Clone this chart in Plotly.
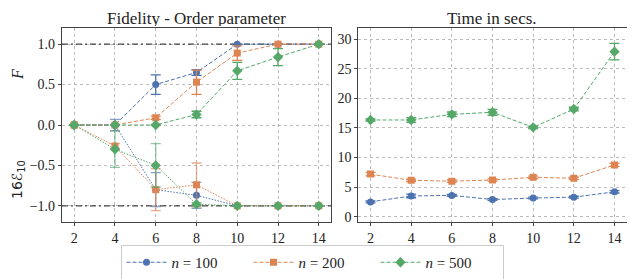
import plotly.graph_objects as go

x_vals = [2, 4, 6, 8, 10, 12, 14]
series_names = ["<i>n</i> = 100", "<i>n</i> = 200", "<i>n</i> = 500"]
colors = ["#4C72B0", "#DD8452", "#55A868"]
err_colors = ["rgba(76,114,176,0.65)", "rgba(221,132,82,0.65)", "rgba(85,168,104,0.65)"]
markers = ["circle", "square", "diamond"]

# Fidelity F
F_100 = [0, 0, 0.50, 0.65, 1.0, 1.0, 1.0]
F_100_err = [0, 0, 0.12, 0.035, 0, 0, 0]
F_200 = [0, 0, 0.09, 0.53, 0.89, 1.0, 1.0]
F_200_err = [0, 0, 0.02, 0.15, 0.09, 0, 0]
F_500 = [0, 0, 0, 0.13, 0.67, 0.84, 1.0]
F_500_err = [0, 0, 0, 0.04, 0.105, 0.105, 0]

# Order parameter 16 E10
E_100 = [0, 0, -0.80, -0.87, -1.0, -1.0, -1.0]
E_100_err = [0, 0.07, 0.21, 0.16, 0, 0, 0]
E_200 = [0, -0.26, -0.80, -0.74, -1.0, -1.0, -1.0]
E_200_err = [0, 0.03, 0.26, 0.27, 0, 0, 0]
E_500 = [0, -0.30, -0.50, -0.98, -1.0, -1.0, -1.0]
E_500_err = [0, 0.225, 0.27, 0.02, 0, 0, 0]

# Time in secs
T_100 = [2.5, 3.5, 3.6, 2.9, 3.15, 3.3, 4.2]
T_100_err = [0.15, 0.3, 0.15, 0.15, 0.15, 0.15, 0.2]
T_200 = [7.2, 6.15, 6.0, 6.2, 6.65, 6.5, 8.75]
T_200_err = [0.3, 0.2, 0.2, 0.2, 0.2, 0.2, 0.25]
T_500 = [16.35, 16.35, 17.3, 17.65, 15.1, 18.2, 27.9]
T_500_err = [0.2, 0.4, 0.4, 0.5, 0.2, 0.3, 1.4]

F_sets = [(F_100, F_100_err), (F_200, F_200_err), (F_500, F_500_err)]
E_sets = [(E_100, E_100_err), (E_200, E_200_err), (E_500, E_500_err)]
T_sets = [(T_100, T_100_err), (T_200, T_200_err), (T_500, T_500_err)]

FONT = "Liberation Serif"
DASH = "4px,2px"
DOT = "1.5px,1.5px"
W, H = 635, 279
OFF = 8  # page body margin offset

def px(xp):
    return (xp - OFF) / W

def py(yp):
    return (H - (yp - OFF)) / H

fig = go.Figure()

# reference lines at +/-1
for yv in [1.0, -1.0]:
    fig.add_trace(go.Scatter(x=[1.4, 14.6], y=[yv, yv], mode="lines",
                             line=dict(color="rgba(40,40,40,0.85)", width=1.2, dash="6px,3px,2px,3px"),
                             showlegend=False, hoverinfo="skip", xaxis="x", yaxis="y"))

def msize(i):
    return 7 if i != 2 else 8

for i in range(3):
    y, e = E_sets[i]
    fig.add_trace(go.Scatter(x=x_vals, y=y, mode="lines+markers",
                             line=dict(color=colors[i], width=1, dash=DOT),
                             marker=dict(symbol=markers[i], size=msize(i), color=colors[i]),
                             error_y=dict(type="data", array=e, color=err_colors[i], thickness=1.3, width=5),
                             showlegend=False, xaxis="x", yaxis="y"))
for i in range(3):
    y, e = F_sets[i]
    fig.add_trace(go.Scatter(x=x_vals, y=y, mode="lines+markers",
                             line=dict(color=colors[i], width=1, dash=DASH),
                             marker=dict(symbol=markers[i], size=msize(i), color=colors[i]),
                             error_y=dict(type="data", array=e, color=colors[i], thickness=1.3, width=5),
                             name=series_names[i], showlegend=True, xaxis="x", yaxis="y"))
for i in range(3):
    y, e = T_sets[i]
    fig.add_trace(go.Scatter(x=x_vals, y=y, mode="lines+markers",
                             line=dict(color=colors[i], width=1, dash=DASH),
                             marker=dict(symbol=markers[i], size=msize(i), color=colors[i]),
                             error_y=dict(type="data", array=e, color=colors[i], thickness=1.3, width=5),
                             showlegend=False, xaxis="x2", yaxis="y2"))

ax_common = dict(showgrid=True, gridcolor="rgba(170,170,170,0.8)", griddash="dot", gridwidth=1,
                 zeroline=False, showline=True, linecolor="#444", linewidth=1.2, mirror=True,
                 ticks="outside", ticklen=3, tickcolor="#444",
                 tickfont=dict(family=FONT, size=14, color="#222"))

fig.update_layout(
    width=W, height=H,
    margin=dict(l=0, r=0, t=0, b=0, autoexpand=False),
    paper_bgcolor="white", plot_bgcolor="white",
    font=dict(family=FONT, color="#222"),
    xaxis=dict(domain=[px(62), px(331)], range=[1.4, 14.6], tickvals=x_vals, anchor="y", **ax_common),
    yaxis=dict(domain=[py(222), py(28)], range=[-1.2, 1.2], tickvals=[-1.0, -0.5, 0.0, 0.5, 1.0],
               ticktext=["\u22121.0", "\u22120.5", "0.0", "0.5", "1.0"], anchor="x", **ax_common),
    xaxis2=dict(domain=[px(358.3), px(626.7)], range=[1.4, 14.6], tickvals=x_vals, anchor="y2", **ax_common),
    yaxis2=dict(domain=[py(222), py(28)], range=[-0.9, 31.9], tickvals=[0, 5, 10, 15, 20, 25, 30],
                anchor="x2", **ax_common),
    legend=dict(orientation="h", x=px(312), xanchor="center", y=py(245), yanchor="top",
                bordercolor="#ccc", borderwidth=1, bgcolor="white",
                font=dict(family=FONT, size=15, color="#222"),
                itemwidth=40, tracegroupgap=0, entrywidth=72),
    annotations=[
        dict(text="Fidelity - Order parameter", x=px(196), y=1.0, xref="paper", yref="paper",
             height=16, valign="middle",
             showarrow=False, font=dict(family=FONT, size=17, color="#222"), xanchor="center", yanchor="top"),
        dict(text="Time in secs.", x=px(492), y=1.0, xref="paper", yref="paper",
             height=16, valign="middle",
             showarrow=False, font=dict(family=FONT, size=17, color="#222"), xanchor="center", yanchor="top"),
        dict(text="<i>F</i>", x=px(17), y=py(75), xref="paper", yref="paper", textangle=-90,
             showarrow=False, font=dict(family=FONT, size=16, color="#222"), xanchor="center", yanchor="middle"),
        dict(text="16\u2130<sub>10</sub>", x=px(18), y=py(180), xref="paper", yref="paper", textangle=-90,
             showarrow=False, font=dict(family="DejaVu Sans", size=14, color="#222"), xanchor="center", yanchor="middle"),
    ],
)

fig.write_html("out.html")
